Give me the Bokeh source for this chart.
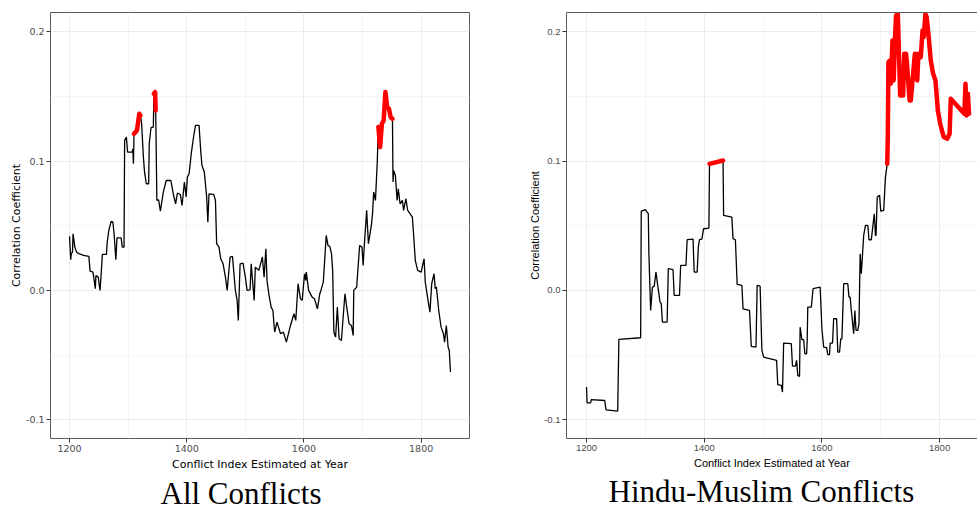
import math
from bokeh.plotting import figure
from bokeh.layouts import row
from bokeh.models import (Range1d, FixedTicker, NumeralTickFormatter, Title,
                          LinearAxis, ColumnDataSource)
from bokeh.embed import file_html
from bokeh.resources import INLINE

# ---------------- data ----------------
years_all = [1200, 1202, 1203, 1205, 1206, 1209, 1212, 1216, 1224, 1233,
             1235, 1240, 1244, 1245, 1249, 1252, 1254, 1256, 1263, 1264,
             1267, 1271, 1274, 1276, 1279, 1281, 1288, 1290, 1293, 1294,
             1297, 1299, 1307, 1308, 1309, 1310, 1315, 1319, 1321, 1323,
             1326, 1328, 1331, 1335, 1336, 1339, 1343, 1344, 1346, 1347,
             1349, 1352, 1355, 1360, 1365, 1373, 1377, 1381, 1384, 1389,
             1392, 1396, 1399, 1401, 1404, 1408, 1412, 1415, 1421, 1424,
             1426, 1430, 1434, 1436, 1438, 1446, 1449, 1451, 1455, 1458,
             1462, 1466, 1469, 1474, 1478, 1483, 1486, 1488, 1491, 1496,
             1500, 1503, 1508, 1510, 1515, 1517, 1523, 1529, 1532, 1535,
             1537, 1540, 1544, 1547, 1550, 1554, 1560, 1565, 1570, 1577,
             1583, 1586, 1590, 1594, 1597, 1601, 1603, 1604, 1608, 1614,
             1618, 1623, 1627, 1629, 1633, 1635, 1638, 1641, 1644, 1647,
             1649, 1651, 1654, 1657, 1660, 1664, 1666, 1670, 1673, 1677,
             1681, 1684, 1685, 1690, 1695, 1699, 1701, 1703, 1707, 1710,
             1715, 1717, 1719, 1722, 1725, 1727, 1730, 1733, 1736, 1739,
             1742, 1745, 1748, 1751, 1752, 1753, 1756, 1759, 1761, 1764,
             1768, 1770, 1774, 1777, 1781, 1785, 1787, 1790, 1794, 1800,
             1805, 1807, 1810, 1815, 1818, 1822, 1824, 1826, 1830, 1834,
             1838, 1840, 1843, 1846, 1848, 1850]
corr_all = [0.0418, 0.0237, 0.0284, 0.0296, 0.0438, 0.0335, 0.0296, 0.0284, 0.0271, 0.0263,
            0.0149, 0.0142, 0.0013, 0.0116, 0.0103, 0.0, 0.0129, 0.0278, 0.0278, 0.0361,
            0.0464, 0.0534, 0.0528, 0.0438, 0.0237, 0.0407, 0.0407, 0.0335, 0.0335, 0.116,
            0.1186, 0.107, 0.107, 0.1095, 0.0979, 0.1211, 0.1237, 0.1366, 0.1353, 0.1289,
            0.1031, 0.0915, 0.0825, 0.0825, 0.1134, 0.1258, 0.1263, 0.152, 0.1534, 0.1392,
            0.0696, 0.0701, 0.0613, 0.076, 0.085, 0.085, 0.0747, 0.067, 0.0753, 0.0742,
            0.0657, 0.0838, 0.0722, 0.0876, 0.0902, 0.107, 0.1198, 0.1276, 0.1276, 0.107,
            0.0966, 0.0915, 0.0722, 0.0528, 0.0747, 0.0742, 0.0696, 0.0361, 0.0335, 0.0245,
            0.0206, 0.0103, 0.0, 0.0258, 0.0263, 0.0, -0.0077, -0.0232, 0.0206, 0.0211,
            0.0103, 0.0, 0.0005, 0.0206, -0.0077, 0.018, 0.0155, 0.0258, 0.0103, 0.0322,
            0.0077, -0.0026, -0.0129, -0.0155, -0.0322, -0.0245, -0.0335, -0.0322, -0.04, -0.0271,
            -0.018, -0.0232, 0.0052, -0.0064, -0.0077, 0.0129, 0.0077, 0.0142, 0.0, -0.0052,
            -0.0064, -0.0142, -0.0026, 0.0, 0.0064, 0.0206, 0.0425, 0.0348, 0.034, 0.0284,
            0.0155, -0.0322, -0.0361, -0.0129, -0.0374, -0.0387, -0.0258, -0.0026, -0.0129, -0.0258,
            -0.0271, -0.0348, 0.0, 0.0026, 0.0348, 0.0335, 0.0193, 0.0348, 0.0619, 0.0361,
            0.0503, 0.0593, 0.076, 0.0696, 0.0979, 0.1263, 0.1108, 0.1289, 0.1314, 0.1534,
            0.1418, 0.1405, 0.134, 0.1327, 0.0838, 0.0928, 0.0889, 0.0696, 0.0786, 0.067,
            0.0696, 0.0619, 0.0709, 0.0619, 0.0593, 0.0567, 0.0438, 0.0232, 0.0155, 0.0142,
            0.0245, 0.0064, -0.0026, -0.0168, 0.0052, 0.0129, 0.0013, 0.0026, -0.0155, -0.0284,
            -0.0335, -0.04, -0.0271, -0.0438, -0.0464, -0.0631]
sig_all = [(1310, 1321), (1344, 1347), (1727, 1751)]

years_hm = [1200, 1201, 1207, 1208, 1231, 1233, 1253, 1255, 1292, 1293,
            1300, 1303, 1305, 1306, 1309, 1312, 1315, 1318, 1321, 1325,
            1327, 1329, 1337, 1339, 1347, 1349, 1358, 1360, 1369, 1371,
            1381, 1383, 1388, 1390, 1392, 1396, 1399, 1408, 1409, 1432,
            1433, 1447, 1449, 1453, 1456, 1464, 1466, 1477, 1480, 1488,
            1490, 1495, 1498, 1501, 1523, 1525, 1531, 1533, 1535, 1548,
            1550, 1555, 1557, 1559, 1562, 1563, 1566, 1569, 1571, 1574,
            1575, 1576, 1582, 1585, 1597, 1600, 1603, 1608, 1610, 1613,
            1614, 1618, 1620, 1625, 1627, 1630, 1632, 1634, 1637, 1644,
            1646, 1648, 1650, 1654, 1656, 1658, 1661, 1663, 1665, 1667,
            1671, 1674, 1678, 1680, 1684, 1687, 1689, 1691, 1692, 1694,
            1698, 1700, 1705, 1708, 1711, 1712, 1713, 1716, 1717, 1720,
            1722, 1724, 1726, 1729, 1733, 1738, 1740, 1743, 1745, 1749,
            1751, 1758, 1762, 1764, 1768, 1771, 1773, 1776, 1778, 1781,
            1785, 1789, 1793, 1797, 1801, 1807, 1813, 1817, 1819, 1842,
            1844, 1846, 1848, 1850]
corr_hm = [-0.0747, -0.0869, -0.0869, -0.0845, -0.0851, -0.0923, -0.0933, -0.0379, -0.0366, 0.0613,
           0.0624, 0.0606, 0.0593, 0.0284, -0.0155, 0.0026, 0.0031, 0.0142, 0.0039, -0.009,
           -0.0103, -0.0245, -0.0245, 0.0168, 0.016, -0.0039, -0.0039, 0.0193, 0.0193, 0.0392,
           0.0397, 0.0142, 0.0142, 0.0335, 0.0392, 0.0397, 0.0477, 0.0482, 0.0979, 0.1005,
           0.058, 0.0567, 0.04, 0.0392, 0.0046, 0.0039, -0.0142, -0.0155, -0.0433, -0.0438,
           0.0039, 0.0034, -0.0464, -0.0515, -0.0541, -0.0729, -0.0735, -0.0786, -0.0407, -0.0412,
           -0.0585, -0.0585, -0.0541, -0.0657, -0.0665, -0.0284, -0.0381, -0.0381, -0.049, -0.049,
           -0.0387, -0.0129, -0.0129, 0.0013, 0.0026, -0.0296, -0.0438, -0.0443, -0.0497, -0.0497,
           -0.0407, -0.0407, -0.0219, -0.0219, -0.0477, -0.0477, -0.0374, -0.0374, 0.0052, 0.0052,
           -0.0052, -0.0052, -0.0155, -0.0335, -0.0155, -0.0309, -0.0309, -0.0258, 0.0284, 0.0129,
           0.0425, 0.0503, 0.0503, 0.0392, 0.0392, 0.0515, 0.0593, 0.0425, 0.0425, 0.0722,
           0.0735, 0.0613, 0.0619, 0.0876, 0.0979, 0.1191, 0.1765, 0.1778, 0.1598, 0.1933,
           0.1624, 0.1933, 0.2126, 0.2139, 0.1508, 0.1508, 0.183, 0.183, 0.1727, 0.1469,
           0.1469, 0.183, 0.1624, 0.183, 0.1804, 0.201, 0.1959, 0.2139, 0.2113, 0.1985,
           0.1778, 0.1675, 0.1624, 0.1392, 0.1289, 0.1186, 0.1173, 0.1211, 0.1482, 0.1366,
           0.1598, 0.1353, 0.1521, 0.1366]
sig_hm = [(1409, 1432), (1711, 1850)]

x_ticks = [1200, 1400, 1600, 1800]
x_minor = [1300, 1500, 1700]
y_ticks = [-0.1, 0.0, 0.1, 0.2]
y_minor = [-0.05, 0.05, 0.15]
x_label = "Conflict Index Estimated at Year"
y_label = "Correlation Coefficient"
caption_all = "All Conflicts"
caption_hm = "Hindu-Muslim Conflicts"

BORDER = "#5e5e5e"


def highlight(years, corr, sig):
    out = []
    for yr, c in zip(years, corr):
        inside = any(a <= yr <= b for a, b in sig)
        out.append(c if inside else float("nan"))
    return out


def make_panel(years, corr, sig, caption, font, width, b_left, b_right,
               x_start, x_end, cap_offset, closed):
    p = figure(width=width, height=512,
               x_range=Range1d(x_start, x_end), y_range=Range1d(-0.1145, 0.2149),
               output_backend="svg", toolbar_location=None,
               min_border_left=b_left, min_border_right=b_right,
               min_border_top=12, min_border_bottom=74,
               background_fill_color="white", border_fill_color="white")
    xt = FixedTicker(ticks=x_ticks, minor_ticks=x_minor)
    yt = FixedTicker(ticks=y_ticks, minor_ticks=y_minor)
    p.xaxis.ticker = xt
    p.yaxis.ticker = yt
    p.xgrid.ticker = xt
    p.ygrid.ticker = yt
    p.xaxis.formatter = NumeralTickFormatter(format="0")
    p.yaxis.formatter = NumeralTickFormatter(format="0.0")
    p.xaxis.axis_label = x_label
    p.yaxis.axis_label = y_label
    for ax in (p.xaxis[0], p.yaxis[0]):
        ax.major_tick_out = 4
        ax.major_tick_in = 0
        ax.major_tick_line_color = "#333333"
        ax.minor_tick_line_color = None
        ax.major_label_text_font = font
        ax.major_label_text_font_size = "9.5px"
        ax.major_label_text_color = "#4d4d4d"
        ax.major_label_standoff = 2
        ax.axis_label_text_font = font
        ax.axis_label_text_font_size = "11px"
        ax.axis_label_text_font_style = "normal"
        ax.axis_label_text_color = "black"
        ax.axis_line_color = None if closed else BORDER
    p.xaxis.axis_label_standoff = 3
    p.yaxis.axis_label_standoff = 0
    p.grid.grid_line_color = "#ebebeb"
    p.grid.grid_line_width = 1
    p.grid.minor_grid_line_color = "#f2f2f2"
    p.grid.minor_grid_line_width = 0.8
    if closed:
        p.outline_line_color = BORDER
        p.outline_line_width = 1
    else:
        p.outline_line_color = None
        top = LinearAxis(ticker=FixedTicker(ticks=[]), axis_line_color=BORDER,
                         major_tick_line_color=None, minor_tick_line_color=None,
                         major_label_text_font_size="0px", major_tick_out=0,
                         major_tick_in=0, major_label_standoff=0)
        p.add_layout(top, "above")

    src = ColumnDataSource(dict(year=years, corr=corr,
                                sig=highlight(years, corr, sig)))
    p.line("year", "corr", source=src, line_color="black", line_width=1.3)
    p.line("year", "sig", source=src, line_color="#ff0000", line_width=4.5,
           line_cap="round", line_join="round")

    # sub-figure caption below the x-axis title
    t = Title(text=caption, align="left", offset=cap_offset,
              text_font="Liberation Serif", text_font_size="31px",
              text_font_style="normal", text_color="black", standoff=0)
    p.add_layout(t, "below")
    return p


p1 = make_panel(years_all, corr_all, sig_all, caption_all, "DejaVu Sans",
                500, 50, 31, 1167.5, 1882.5, 110, True)
p2 = make_panel(years_hm, corr_hm, sig_hm, caption_hm, "Liberation Sans",
                477, 66, 0, 1166.0, 1864.4, 42, False)

layout = row(p1, p2)
open("out.html", "w").write(file_html(layout, INLINE))
